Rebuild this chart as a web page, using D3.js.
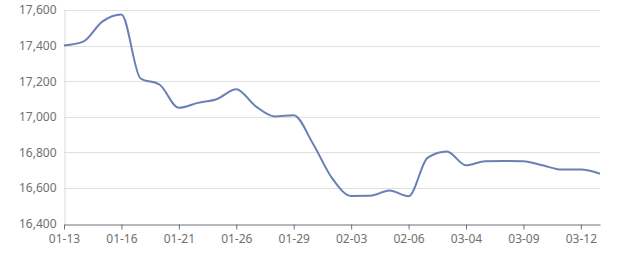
<!DOCTYPE html>
<html>
<head>
<meta charset="utf-8">
<script src="https://cdn.jsdelivr.net/npm/d3@7"></script>
<style>
  html, body { margin: 0; padding: 0; background: #fff; }
  .chart text { font-family: "Noto Sans", "DejaVu Sans", sans-serif; font-size: 12px; fill: #707070; }
</style>
</head>
<body>
<div class="chart"></div>
<script>
'use strict';

// date labels (only every third one is shown on the axis)
const dates = [
  '01-13', '01-14', '01-15', '01-16', '01-17', '01-20', '01-21', '01-22', '01-24',
  '01-26', '01-27', '01-28', '01-29', '01-30', '02-01', '02-03', '02-04', '02-05',
  '02-06', '02-07', '03-03', '03-04', '03-05', '03-06', '03-09', '03-10', '03-11',
  '03-12', '03-13'
];

const prices = [
  17400, 17422, 17535, 17575, 17215, 17180, 17050, 17078, 17100,
  17155, 17060, 17002, 17008, 16850, 16655, 16555, 16556, 16585,
  16553, 16770, 16805, 16727, 16750, 16751, 16750, 16727, 16703,
  16703, 16680
];

const yTicks = [16400, 16600, 16800, 17000, 17200, 17400, 17600];


const WIDTH = 640;
const HEIGHT = 270;
const margin = {top: 10, right: 40, bottom: 46.5, left: 64};

const svg = d3.select('.chart')
  .append('svg')
    .attr('width', WIDTH)
    .attr('height', HEIGHT);

const x = d3.scalePoint()
    .domain(dates)
    .range([margin.left, WIDTH - margin.right]);

const y = d3.scaleLinear()
    .domain([16400, 17600])
    .range([HEIGHT - margin.bottom, margin.top]);

// horizontal grid
svg.append('g')
  .selectAll('line')
  .data(yTicks.slice(1))
  .enter().append('line')
    .attr('x1', margin.left)
    .attr('x2', WIDTH - margin.right)
    .attr('y1', d => Math.round(y(d)) + 0.5)
    .attr('y2', d => Math.round(y(d)) + 0.5)
    .attr('stroke', '#e0e0e0')
    .attr('stroke-width', 1);

// y axis
const yAxis = svg.append('g')
    .attr('transform', `translate(${margin.left + 0.5},0)`)
    .call(d3.axisLeft(y).tickValues(yTicks).tickFormat(d3.format(',')).tickSize(0).tickPadding(8));
yAxis.select('.domain').attr('stroke', '#dcdcdc');

// x axis
const xAxis = svg.append('g')
    .attr('transform', `translate(0,${Math.round(HEIGHT - margin.bottom) + 0.5})`)
    .call(d3.axisBottom(x)
      .tickValues(dates.filter((d, i) => i % 3 === 0))
      .tickSize(5)
      .tickPadding(5)
      .tickSizeOuter(0));
xAxis.select('.domain').attr('stroke', '#6e7079');
xAxis.selectAll('.tick line').attr('stroke', '#6e7079');

// price line
const line = d3.line()
    .x((d, i) => x(dates[i]))
    .y(d => y(d))
    .curve(d3.curveMonotoneX);

svg.append('path')
    .datum(prices)
    .attr('d', line)
    .attr('fill', 'none')
    .attr('stroke', '#6a7fb6')
    .attr('stroke-width', 2)
    .attr('stroke-linejoin', 'round');
</script>
</body>
</html>
